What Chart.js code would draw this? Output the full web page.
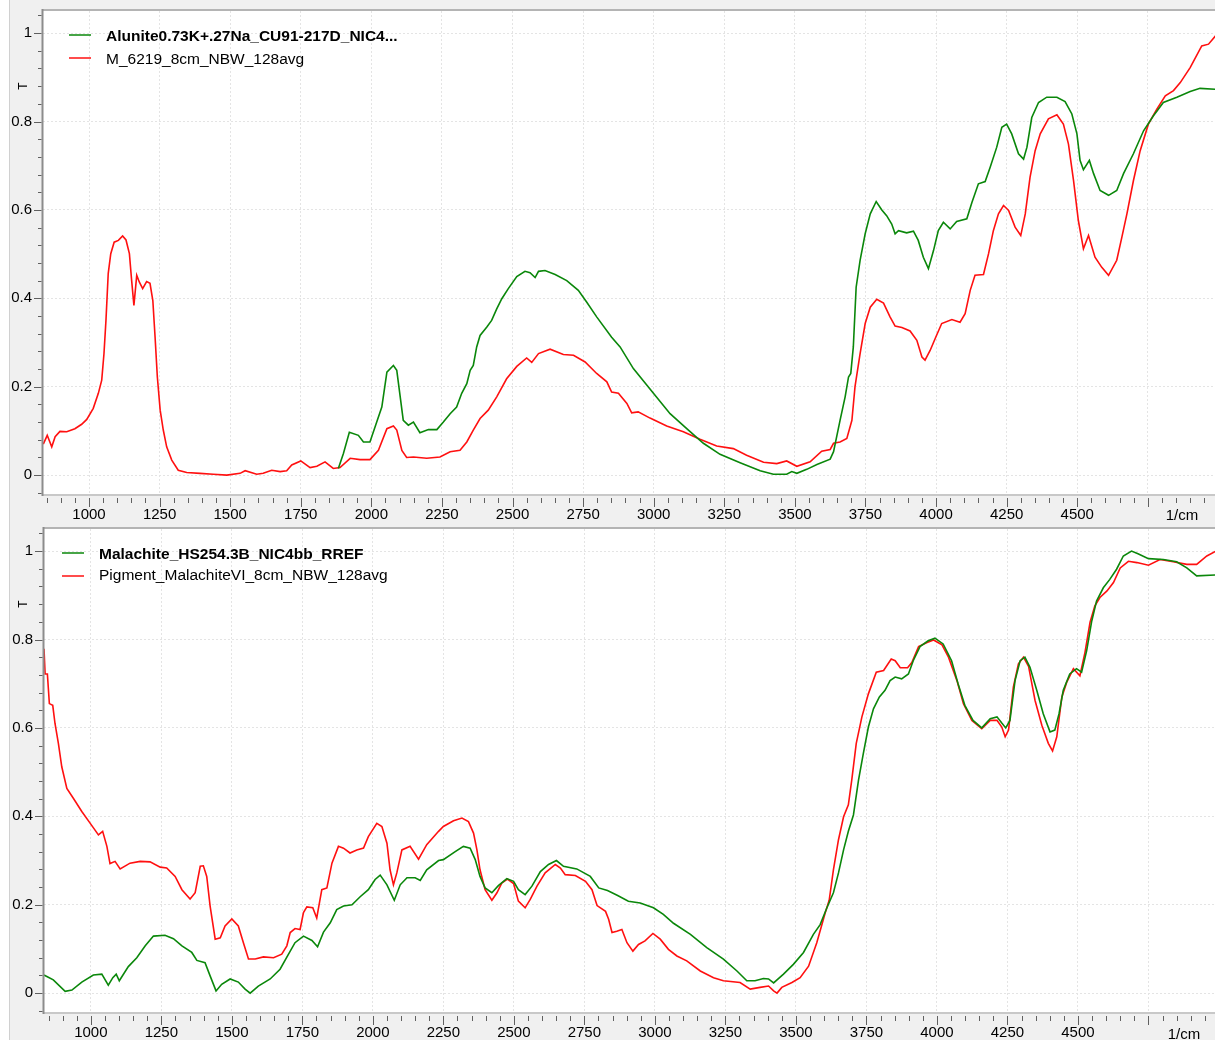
<!DOCTYPE html>
<html>
<head>
<meta charset="utf-8">
<script src="https://cdn.jsdelivr.net/npm/chart.js@4.4.1/dist/chart.umd.min.js"></script>
<style>
  html, body { margin: 0; padding: 0; background: #fff; }
  #page { position: relative; width: 1215px; height: 1040px; overflow: hidden; }
  #panel { position: absolute; left: 9px; top: 0; width: 1206px; height: 1040px; background: #f0f0f0; border-left: 1px solid #d0d0d0; }
  .box { position: absolute; left: 0; width: 1215px; }
  #topBox { top: -9px; height: 537px; }
  #botBox { top: 509px; height: 531px; }
</style>
</head>
<body>
<div id="page">
  <div id="panel"></div>
  <div class="box" id="topBox"><canvas id="topChart" width="1215" height="537"></canvas></div>
  <div class="box" id="botBox"><canvas id="botChart" width="1215" height="531"></canvas></div>
</div>
<script>
// --- DATA (wavenumber in 1/cm, T) ---

// top panel: Alunite reference (green)
const alunWn = [1883, 1901, 1922, 1954, 1972, 1995, 2019, 2037, 2055, 2078, 2090, 2113, 2131, 2149, 2172, 2202, 2232, 2255, 2279, 2302,
  2320, 2338, 2350, 2361, 2373, 2385, 2409, 2426, 2444, 2462, 2485, 2515, 2544, 2562, 2580, 2592, 2615, 2651, 2692, 2733,
  2763, 2798, 2851, 2881, 2928, 2999, 3058, 3117, 3176, 3235, 3306, 3377, 3424, 3471, 3489, 3507, 3542, 3578, 3625, 3637,
  3660, 3678, 3690, 3698, 3707, 3717, 3731, 3749, 3767, 3788, 3808, 3825, 3843, 3855, 3867, 3896, 3920, 3937, 3955, 3973,
  3991, 4008, 4026, 4050, 4073, 4109, 4127, 4150, 4174, 4192, 4215, 4233, 4250, 4268, 4292, 4310, 4322, 4339, 4363, 4392,
  4428, 4457, 4481, 4499, 4510, 4522, 4543, 4558, 4581, 4611, 4640, 4664, 4699, 4735, 4770, 4805, 4853, 4900, 4935, 4990];
const alunT = [0.015, 0.049, 0.097, 0.090, 0.075, 0.075, 0.120, 0.154, 0.233, 0.248, 0.237, 0.124, 0.113, 0.120, 0.096, 0.103, 0.103, 0.120, 0.139, 0.154,
  0.185, 0.207, 0.237, 0.248, 0.290, 0.316, 0.335, 0.350, 0.376, 0.399, 0.422, 0.449, 0.461, 0.458, 0.447, 0.461, 0.463, 0.454, 0.440, 0.418,
  0.391, 0.358, 0.312, 0.290, 0.241, 0.185, 0.139, 0.105, 0.072, 0.047, 0.028, 0.010, 0.002, 0.002, 0.008, 0.004, 0.013, 0.024, 0.036, 0.053,
  0.124, 0.177, 0.222, 0.230, 0.290, 0.425, 0.486, 0.546, 0.591, 0.619, 0.600, 0.587, 0.568, 0.546, 0.553, 0.548, 0.552, 0.531, 0.493, 0.467,
  0.508, 0.553, 0.572, 0.557, 0.574, 0.580, 0.617, 0.659, 0.664, 0.697, 0.742, 0.787, 0.794, 0.772, 0.727, 0.715, 0.742, 0.809, 0.843, 0.855,
  0.855, 0.845, 0.817, 0.772, 0.712, 0.691, 0.712, 0.682, 0.644, 0.633, 0.644, 0.682, 0.727, 0.779, 0.813, 0.843, 0.855, 0.868, 0.875, 0.873];

// top panel: sample M_6219 (red)
const m6219Wn = [838, 852, 868, 880, 897, 921, 950, 974, 992, 1015, 1033, 1045, 1053, 1060, 1068, 1077, 1089, 1104, 1119, 1131,
  1143, 1151, 1159, 1169, 1178, 1190, 1204, 1216, 1226, 1234, 1242, 1252, 1263, 1275, 1293, 1316, 1346, 1393, 1440, 1488,
  1535, 1553, 1594, 1617, 1647, 1677, 1700, 1718, 1750, 1783, 1807, 1836, 1865, 1889, 1925, 1960, 1995, 2025, 2055, 2078,
  2090, 2108, 2125, 2149, 2196, 2243, 2279, 2314, 2338, 2361, 2385, 2414, 2444, 2479, 2515, 2550, 2568, 2592, 2633, 2680,
  2716, 2757, 2798, 2834, 2851, 2875, 2905, 2922, 2945, 2987, 3046, 3105, 3164, 3223, 3282, 3329, 3389, 3436, 3471, 3507,
  3554, 3595, 3625, 3637, 3660, 3684, 3702, 3713, 3731, 3749, 3767, 3790, 3814, 3837, 3855, 3879, 3908, 3932, 3950, 3961,
  3979, 3997, 4020, 4056, 4085, 4103, 4121, 4138, 4168, 4186, 4203, 4221, 4239, 4257, 4280, 4300, 4316, 4333, 4351, 4369,
  4398, 4428, 4451, 4469, 4487, 4504, 4522, 4540, 4563, 4587, 4611, 4640, 4658, 4676, 4699, 4723, 4752, 4782, 4812, 4841,
  4865, 4900, 4941, 4965, 4990];
const m6219T = [0.070, 0.090, 0.064, 0.087, 0.099, 0.098, 0.105, 0.115, 0.126, 0.151, 0.185, 0.215, 0.275, 0.350, 0.456, 0.501, 0.527, 0.531, 0.541, 0.532,
  0.501, 0.440, 0.384, 0.452, 0.437, 0.422, 0.438, 0.434, 0.395, 0.312, 0.222, 0.147, 0.102, 0.064, 0.034, 0.011, 0.006, 0.004, 0.002, 0.000,
  0.004, 0.010, 0.002, 0.004, 0.011, 0.008, 0.010, 0.023, 0.032, 0.017, 0.020, 0.030, 0.015, 0.017, 0.038, 0.035, 0.035, 0.056, 0.105, 0.111,
  0.102, 0.056, 0.040, 0.041, 0.038, 0.041, 0.053, 0.056, 0.075, 0.102, 0.128, 0.147, 0.177, 0.218, 0.246, 0.265, 0.255, 0.275, 0.285, 0.273,
  0.271, 0.256, 0.230, 0.211, 0.188, 0.185, 0.162, 0.141, 0.143, 0.129, 0.111, 0.098, 0.081, 0.066, 0.060, 0.045, 0.029, 0.026, 0.032, 0.020,
  0.030, 0.054, 0.058, 0.072, 0.075, 0.083, 0.124, 0.200, 0.275, 0.343, 0.380, 0.398, 0.389, 0.358, 0.337, 0.334, 0.326, 0.305, 0.267, 0.260,
  0.282, 0.309, 0.343, 0.352, 0.346, 0.365, 0.418, 0.452, 0.454, 0.501, 0.553, 0.591, 0.610, 0.599, 0.561, 0.542, 0.591, 0.674, 0.734, 0.772,
  0.806, 0.815, 0.794, 0.749, 0.666, 0.576, 0.512, 0.542, 0.493, 0.470, 0.452, 0.486, 0.538, 0.591, 0.666, 0.734, 0.794, 0.828, 0.858, 0.870,
  0.888, 0.922, 0.971, 0.975, 0.994];

// bottom panel: Malachite reference (green)
const malWn = [834, 867, 909, 933, 968, 1009, 1039, 1062, 1078, 1090, 1101, 1133, 1163, 1193, 1222, 1263, 1293, 1323, 1358, 1376,
  1405, 1423, 1444, 1464, 1494, 1523, 1547, 1565, 1594, 1636, 1671, 1701, 1724, 1754, 1784, 1804, 1825, 1849, 1872, 1896,
  1926, 1955, 1984, 2008, 2026, 2050, 2076, 2097, 2121, 2150, 2168, 2191, 2233, 2250, 2292, 2321, 2345, 2363, 2380, 2398,
  2422, 2445, 2475, 2499, 2516, 2540, 2564, 2594, 2623, 2651, 2676, 2723, 2771, 2801, 2832, 2868, 2906, 2948, 2995, 3030,
  3066, 3126, 3184, 3243, 3291, 3326, 3355, 3385, 3403, 3421, 3456, 3491, 3527, 3562, 3586, 3610, 3633, 3651, 3669, 3686,
  3704, 3722, 3739, 3757, 3775, 3796, 3816, 3834, 3852, 3875, 3899, 3916, 3940, 3969, 3993, 4022, 4052, 4075, 4099, 4128,
  4159, 4189, 4213, 4230, 4244, 4259, 4277, 4295, 4312, 4330, 4354, 4377, 4401, 4418, 4433, 4448, 4471, 4495, 4513, 4531,
  4549, 4566, 4590, 4613, 4637, 4661, 4690, 4713, 4750, 4803, 4850, 4886, 4921, 4990];
const malT = [0.041, 0.030, 0.004, 0.007, 0.025, 0.041, 0.043, 0.018, 0.035, 0.043, 0.028, 0.060, 0.080, 0.107, 0.129, 0.131, 0.123, 0.107, 0.092, 0.074,
  0.069, 0.039, 0.005, 0.020, 0.032, 0.025, 0.009, 0.000, 0.016, 0.032, 0.054, 0.088, 0.114, 0.129, 0.119, 0.105, 0.138, 0.159, 0.189, 0.197,
  0.200, 0.218, 0.234, 0.257, 0.267, 0.245, 0.210, 0.245, 0.261, 0.261, 0.255, 0.279, 0.300, 0.302, 0.320, 0.332, 0.328, 0.302, 0.264, 0.238,
  0.227, 0.243, 0.259, 0.253, 0.234, 0.223, 0.242, 0.275, 0.291, 0.300, 0.287, 0.281, 0.264, 0.238, 0.232, 0.221, 0.208, 0.204, 0.193, 0.178,
  0.158, 0.133, 0.103, 0.077, 0.050, 0.028, 0.028, 0.033, 0.032, 0.023, 0.043, 0.065, 0.092, 0.133, 0.155, 0.193, 0.227, 0.272, 0.324, 0.366,
  0.403, 0.482, 0.542, 0.602, 0.643, 0.670, 0.685, 0.707, 0.715, 0.711, 0.722, 0.752, 0.784, 0.797, 0.803, 0.790, 0.752, 0.700, 0.651, 0.617,
  0.600, 0.621, 0.625, 0.611, 0.600, 0.617, 0.707, 0.752, 0.760, 0.737, 0.685, 0.632, 0.591, 0.595, 0.632, 0.685, 0.722, 0.734, 0.726, 0.775,
  0.842, 0.887, 0.917, 0.936, 0.959, 0.989, 1.000, 0.994, 0.983, 0.981, 0.976, 0.962, 0.944, 0.946];

// bottom panel: pigment sample (red)
const pigWn = [834, 838, 846, 853, 865, 873, 885, 897, 915, 938, 968, 998, 1027, 1042, 1057, 1068, 1086, 1104, 1139, 1175,
  1210, 1246, 1269, 1299, 1323, 1352, 1370, 1388, 1399, 1411, 1423, 1441, 1459, 1476, 1500, 1523, 1541, 1559, 1583, 1612,
  1648, 1677, 1695, 1707, 1724, 1742, 1754, 1766, 1787, 1801, 1819, 1837, 1855, 1878, 1896, 1919, 1943, 1967, 1984, 2014,
  2032, 2050, 2061, 2073, 2085, 2103, 2132, 2162, 2191, 2233, 2250, 2286, 2316, 2339, 2357, 2369, 2380, 2398, 2422, 2440,
  2457, 2477, 2499, 2516, 2540, 2558, 2582, 2611, 2647, 2665, 2682, 2718, 2754, 2777, 2795, 2825, 2836, 2848, 2865, 2883,
  2901, 2922, 2942, 2965, 2993, 3019, 3048, 3078, 3113, 3161, 3208, 3243, 3302, 3338, 3373, 3403, 3421, 3433, 3450, 3486,
  3515, 3545, 3574, 3604, 3618, 3633, 3651, 3669, 3686, 3698, 3714, 3734, 3757, 3785, 3811, 3838, 3852, 3870, 3896, 3911,
  3935, 3965, 3988, 4018, 4041, 4071, 4094, 4124, 4159, 4189, 4213, 4230, 4242, 4254, 4271, 4289, 4307, 4325, 4348, 4372,
  4395, 4410, 4425, 4443, 4460, 4484, 4507, 4525, 4543, 4560, 4578, 4603, 4626, 4650, 4679, 4709, 4750, 4791, 4838, 4886,
  4921, 4957, 4990];
const pigT = [0.779, 0.722, 0.722, 0.655, 0.651, 0.610, 0.565, 0.512, 0.463, 0.441, 0.411, 0.384, 0.358, 0.366, 0.332, 0.293, 0.298, 0.281, 0.294, 0.298,
  0.297, 0.285, 0.283, 0.264, 0.234, 0.213, 0.227, 0.287, 0.288, 0.264, 0.197, 0.122, 0.125, 0.152, 0.168, 0.152, 0.114, 0.077, 0.077, 0.082,
  0.080, 0.088, 0.107, 0.137, 0.146, 0.144, 0.182, 0.195, 0.193, 0.170, 0.234, 0.238, 0.294, 0.332, 0.328, 0.317, 0.324, 0.328, 0.354, 0.384,
  0.377, 0.339, 0.279, 0.245, 0.272, 0.324, 0.332, 0.303, 0.336, 0.366, 0.377, 0.390, 0.396, 0.388, 0.362, 0.324, 0.279, 0.234, 0.210, 0.227,
  0.249, 0.258, 0.248, 0.208, 0.193, 0.212, 0.242, 0.272, 0.291, 0.283, 0.268, 0.266, 0.253, 0.234, 0.198, 0.185, 0.167, 0.137, 0.140, 0.144,
  0.114, 0.095, 0.110, 0.118, 0.135, 0.122, 0.099, 0.084, 0.073, 0.050, 0.035, 0.028, 0.024, 0.009, 0.013, 0.016, 0.005, 0.000, 0.013, 0.024,
  0.035, 0.061, 0.114, 0.182, 0.210, 0.279, 0.347, 0.399, 0.426, 0.482, 0.565, 0.625, 0.677, 0.726, 0.730, 0.756, 0.752, 0.736, 0.736, 0.748,
  0.784, 0.793, 0.799, 0.788, 0.760, 0.707, 0.655, 0.617, 0.598, 0.617, 0.617, 0.602, 0.580, 0.595, 0.692, 0.745, 0.760, 0.739, 0.662, 0.606,
  0.565, 0.548, 0.580, 0.670, 0.703, 0.734, 0.718, 0.771, 0.839, 0.876, 0.895, 0.910, 0.929, 0.962, 0.977, 0.974, 0.968, 0.981, 0.976, 0.970,
  0.970, 0.989, 1.000];

const topLabels = ['Alunite0.73K+.27Na_CU91-217D_NIC4...', 'M_6219_8cm_NBW_128avg'];
const botLabels = ['Malachite_HS254.3B_NIC4bb_RREF', 'Pigment_MalachiteVI_8cm_NBW_128avg'];

const GREEN = '#0a870a';
const RED = '#ff1010';
const FONT = '"Liberation Sans", Arial, sans-serif';

function toPoints(xs, ys) {
    return xs.map((x, i) => ({ x: x, y: ys[i] }));
}

// frame, minor ticks, legend and axis captions drawn around the plot area
const spectrumFrame = {
    id: 'spectrumFrame',
    beforeDraw(chart) {
        const a = chart.chartArea;
        const ctx = chart.ctx;
        ctx.save();
        ctx.fillStyle = '#ffffff';
        ctx.fillRect(a.left, a.top, a.right - a.left, a.bottom - a.top);
        ctx.restore();
    },
    afterDraw(chart, args, opts) {
        const a = chart.chartArea;
        const ctx = chart.ctx;
        const xs = chart.scales.x;
        const ys = chart.scales.y;
        ctx.save();

        // plot border
        ctx.lineWidth = 2;
        ctx.strokeStyle = '#b4b4b4';
        ctx.beginPath();
        ctx.moveTo(a.left, a.top - 1);
        ctx.lineTo(a.right, a.top - 1);
        ctx.stroke();
        ctx.strokeStyle = '#c8c8c8';
        ctx.beginPath();
        ctx.moveTo(a.left, a.bottom);
        ctx.lineTo(a.right, a.bottom);
        ctx.stroke();
        ctx.strokeStyle = '#8c8c8c';
        ctx.beginPath();
        ctx.moveTo(a.left - 0.5, a.top - 2);
        ctx.lineTo(a.left - 0.5, a.bottom + 1);
        ctx.stroke();

        // tick marks
        ctx.lineWidth = 1;
        ctx.strokeStyle = '#606060';
        for (let v = 850; v <= xs.max; v += 50) {
            const px = Math.round(xs.getPixelForValue(v)) + 0.5;
            const major = v % 250 === 0;
            ctx.beginPath();
            ctx.moveTo(px, a.bottom + 3);
            ctx.lineTo(px, a.bottom + (major ? 12 : 8));
            ctx.stroke();
        }
        for (let k = -1; k <= 26; k++) {
            const v = k * 0.04;
            if (v < ys.min || v > ys.max) continue;
            const py = Math.round(ys.getPixelForValue(v)) + 0.5;
            const major = k % 5 === 0;
            ctx.beginPath();
            ctx.moveTo(a.left - (major ? 9 : 5), py);
            ctx.lineTo(a.left - 1.5, py);
            ctx.stroke();
        }

        // axis captions
        ctx.fillStyle = '#000';
        ctx.font = '15px ' + FONT;
        ctx.textAlign = 'center';
        ctx.textBaseline = 'alphabetic';
        ctx.fillText('1/cm', opts.unitX, opts.unitY);
        ctx.save();
        ctx.translate(opts.tX, ys.getPixelForValue(0.88));
        ctx.rotate(-Math.PI / 2);
        ctx.font = '12px ' + FONT;
        ctx.textBaseline = 'middle';
        ctx.fillText('T', 0, 0);
        ctx.restore();

        // legend
        const items = chart.data.datasets;
        items.forEach((ds, i) => {
            const y = opts.legendY[i];
            ctx.strokeStyle = ds.borderColor;
            ctx.lineWidth = 1.5;
            ctx.beginPath();
            ctx.moveTo(opts.legendX, y);
            ctx.lineTo(opts.legendX + 22, y);
            ctx.stroke();
            ctx.fillStyle = '#000';
            ctx.textAlign = 'left';
            ctx.textBaseline = 'alphabetic';
            ctx.font = (i === 0 ? 'bold ' : '') + '15.5px ' + FONT;
            ctx.fillText(ds.label, opts.legendX + 37, opts.textBase[i]);
        });
        ctx.restore();
    }
};

function makeSpectrum(canvasId, cfg) {
    const ctx = document.getElementById(canvasId).getContext('2d');
    return new Chart(ctx, {
        type: 'line',
        data: {
            datasets: [
                { label: cfg.labels[0], data: toPoints(cfg.gx, cfg.gy), borderColor: GREEN, borderWidth: 1.6 },
                { label: cfg.labels[1], data: toPoints(cfg.rx, cfg.ry), borderColor: RED, borderWidth: 1.6 }
            ]
        },
        options: {
            responsive: false,
            animation: false,
            events: [],
            elements: { point: { radius: 0 }, line: { tension: 0 } },
            layout: { padding: { top: 1, left: 0, right: 0, bottom: 0 } },
            plugins: {
                legend: { display: false },
                tooltip: { enabled: false },
                spectrumFrame: cfg.frame
            },
            scales: {
                x: {
                    type: 'linear',
                    min: cfg.xmin,
                    max: cfg.xmax,
                    afterFit: (s) => { s.height = cfg.xAxisH; },
                    grid: { color: '#e4e4e4', lineWidth: 1, drawTicks: false },
                    border: { display: false, dash: [2, 2] },
                    ticks: {
                        stepSize: 250,
                        includeBounds: false,
                        autoSkip: false,
                        maxRotation: 0,
                        padding: 11,
                        color: '#000',
                        font: { family: FONT, size: 15 },
                        callback: (v) => (v === 4750 ? '' : String(v))
                    }
                },
                y: {
                    min: -0.045,
                    max: 1.05,
                    afterFit: (s) => { s.width = cfg.yAxisW; },
                    grid: { color: '#e4e4e4', lineWidth: 1, drawTicks: false },
                    border: { display: false, dash: [2, 2] },
                    ticks: {
                        stepSize: 0.2,
                        includeBounds: false,
                        padding: 11,
                        color: '#000',
                        font: { family: FONT, size: 15 },
                        callback: (v) => String(Math.round(v * 10) / 10)
                    }
                }
            }
        },
        plugins: [spectrumFrame]
    });
}

// top canvas sits 9px above the page, bottom canvas starts at 509px
makeSpectrum('topChart', {
    gx: alunWn, gy: alunT, rx: m6219Wn, ry: m6219T,
    labels: topLabels,
    xmin: 837, xmax: 4988,
    xAxisH: 33, yAxisW: 43,
    frame: { legendX: 69, legendY: [44, 67], textBase: [50, 73], unitX: 1182, unitY: 529, tX: 24 }
});

makeSpectrum('botChart', {
    gx: malWn, gy: malT, rx: pigWn, ry: pigT,
    labels: botLabels,
    xmin: 834, xmax: 4986,
    xAxisH: 27, yAxisW: 44,
    frame: { legendX: 62, legendY: [44, 67], textBase: [50, 71], unitX: 1184, unitY: 530, tX: 24 }
});
</script>
</body>
</html>
